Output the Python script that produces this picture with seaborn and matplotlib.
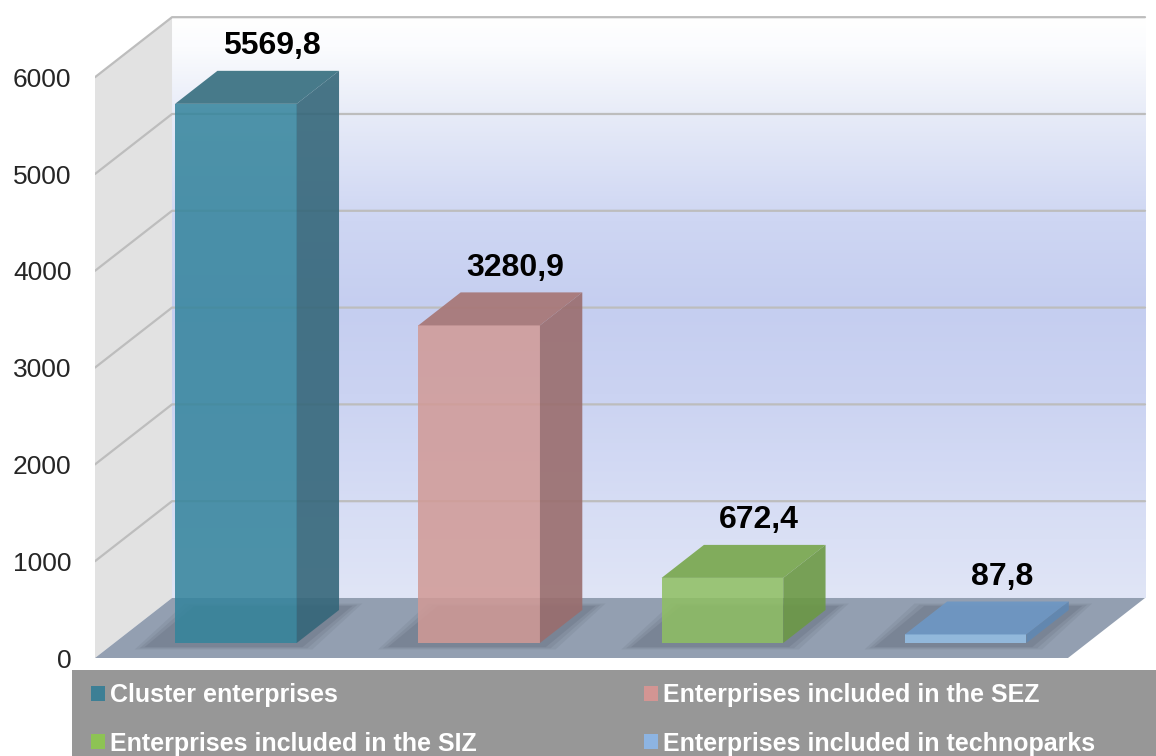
import numpy as np
import pandas as pd
import seaborn as sns
import matplotlib.pyplot as plt
import matplotlib.transforms as mtransforms
from matplotlib.patches import Polygon, Patch, Rectangle
from matplotlib.colors import LinearSegmentedColormap

# данные
categories = ["Cluster enterprises", "Enterprises included in the SEZ",
              "Enterprises included in the SIZ", "Enterprises included in technoparks"]
values = [5569.8, 3280.9, 672.4, 87.8]
value_labels = ["5569,8", "3280,9", "672,4", "87,8"]
yticks = [0, 1000, 2000, 3000, 4000, 5000, 6000]

front_colors = ["#238DAD", "#DB928C", "#8ECF52", "#8AC2F4"]
top_colors = ["#3E7484", "#A87979", "#7CA954", "#6E97C3"]
side_colors = ["#35677A", "#9A6D6D", "#6C9945", "#6088B3"]
legend_colors = ["#3D7F95", "#D39593", "#8DC354", "#8DB4E2"]

df = pd.DataFrame({"cat": categories, "val": values})

sns.set_style("white")
plt.rcParams["font.family"] = ["Liberation Sans", "DejaVu Sans"]

fig = plt.figure(figsize=(11.56, 7.56), dpi=100)
ax = fig.add_axes([95 / 1156, 98 / 756, 1061 / 1156, 658 / 756])

# глубина "3D" в единицах данных
DX = 0.3166
DY = 620
d_front, d_back = 0.25, 0.80
ymax = 6000

# задняя стенка с градиентом
cmap = LinearSegmentedColormap.from_list("wall", [
    (0.0, "#E0E5F6"), (0.1, "#DAE0F5"), (0.35, "#CBD3F2"), (0.5, "#C5CEF0"),
    (0.65, "#CED6F3"), (0.84, "#E8ECF8"), (0.95, "#FBFCFE"), (1.0, "#FFFFFF")])
ax.imshow(np.linspace(0, 1, 256).reshape(-1, 1), origin="lower", cmap=cmap,
          extent=[-0.5 + DX, 3.5 + DX, DY, ymax + DY], aspect="auto", zorder=0)

# левая стенка
ax.add_patch(Polygon([(-0.5, 0), (-0.5, ymax), (-0.5 + DX, ymax + DY), (-0.5 + DX, DY)],
                     closed=True, facecolor="#E2E2E2", edgecolor="none", zorder=0.5))

# сетка
for t in yticks[1:]:
    ax.plot([-0.5, -0.5 + DX, 3.5 + DX], [t, t + DY, t + DY], color="#BDBDBD", lw=1.6, zorder=1)

# пол
ax.add_patch(Polygon([(-0.5, 0), (3.5, 0), (3.5 + DX, DY), (-0.5 + DX, DY)],
                     closed=True, facecolor="#939FB1", edgecolor="none", zorder=1.5))

# столбцы
sns.barplot(data=df, x="cat", y="val", hue="cat", palette=front_colors, width=0.5,
            legend=False, ax=ax, alpha=0.86, zorder=3)
bars = [b for c in ax.containers for b in c]
shift = mtransforms.Affine2D().translate(d_front * DX, d_front * DY) + ax.transData
shadow_shift = mtransforms.Affine2D().translate((d_front - 0.05) * DX, (d_front - 0.05) * DY) + ax.transData
bd = d_back - d_front
for i, p in enumerate(bars):
    x0 = p.get_x()
    x1 = x0 + p.get_width()
    v = p.get_height()
    p.set_transform(shift)
    p.set_edgecolor("none")
    # тень
    for k, a in enumerate([0.10, 0.12, 0.16]):
        m = 0.06 - k * 0.02
        sh = [(x0 - 0.09 - m, -m * 600), (x1 + 0.02 + m, -m * 600),
              (x1 + 0.02 + m + (bd + 0.1) * DX, (bd + 0.1) * DY + m * 600),
              (x0 - 0.09 - m + (bd + 0.1) * DX, (bd + 0.1) * DY + m * 600)]
        ax.add_patch(Polygon(sh, closed=True, facecolor="#4A5262", edgecolor="none",
                             alpha=a, transform=shadow_shift, zorder=2))
    top = [(x0, v), (x1, v), (x1 + bd * DX, v + bd * DY), (x0 + bd * DX, v + bd * DY)]
    side = [(x1, 0), (x1, v), (x1 + bd * DX, v + bd * DY), (x1 + bd * DX, bd * DY)]
    ax.add_patch(Polygon(top, closed=True, facecolor=top_colors[i], edgecolor="none",
                         alpha=0.95, transform=shift, zorder=3))
    ax.add_patch(Polygon(side, closed=True, facecolor=side_colors[i], edgecolor="none",
                         alpha=0.9, transform=shift, zorder=3))
    ax.annotate(value_labels[i], xy=(i + 0.72 * DX, v + d_back * DY), xytext=(0, 12),
                textcoords="offset points", ha="center", va="baseline",
                fontsize=23, fontweight="bold", color="black", zorder=5)

ax.set_xlim(-0.5, -0.5 + 1061 / 243.25)
ax.set_ylim(0, 658 / 0.0968)
ax.set_yticks(yticks)
ax.set_yticklabels([str(t) for t in yticks], fontsize=19)
ax.tick_params(axis="y", length=0, pad=17)
ax.tick_params(axis="x", bottom=False, labelbottom=False)
ax.set_xlabel("")
ax.set_ylabel("")
for s in ax.spines.values():
    s.set_visible(False)
ax.patch.set_alpha(0)

# легенда
fig.add_artist(Rectangle((72 / 1156, 0), 1 - 72 / 1156, 86 / 756, transform=fig.transFigure,
                         facecolor="#979797", edgecolor="none", zorder=0))
order = [0, 2, 1, 3]
handles = [Patch(facecolor=legend_colors[i], edgecolor="none") for i in order]
labels = [categories[i] for i in order]
fig.legend(handles, labels, loc="upper left", bbox_to_anchor=(91 / 1156, 1 - 683 / 756),
           ncol=2, frameon=False, borderaxespad=0, borderpad=0,
           prop={"size": 18, "weight": "bold"}, labelcolor="white",
           handlelength=0.56, handleheight=0.56, handletextpad=0.2,
           columnspacing=6.7, labelspacing=0.98)

fig.savefig("out.png", dpi=100)
